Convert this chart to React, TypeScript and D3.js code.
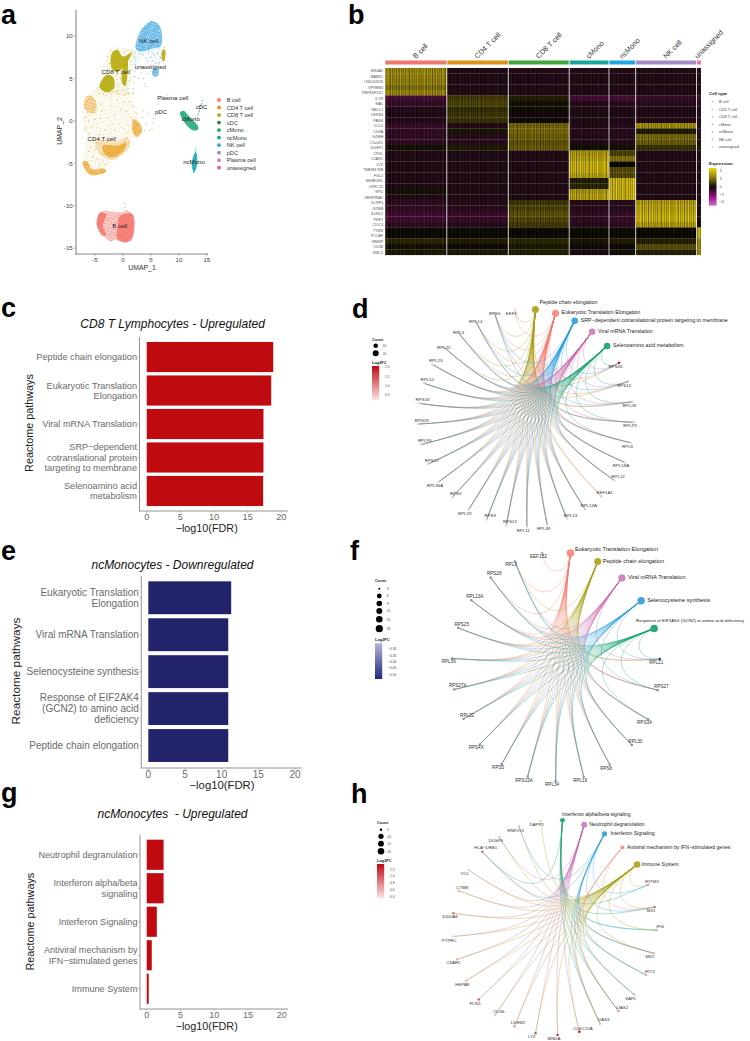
import React from "react";
import * as d3 from "d3";

const FONT = "'Liberation Sans', Arial, sans-serif";

/* ---------- panel a ---------- */
const umapTypes = ["B cell","CD4 T cell","CD8 T cell","cDC","cMono","ncMono","NK cell","pDC","Plasma cell","unassigned"];
const umapColors = ["#F4766C","#E79A10","#B3A700","#2C7F3C","#1BA673","#0BA5B0","#3DA5E0","#9988CC","#D37BB0","#E05C9A"];
const umapTicksX = [-5,0,5,10,15];
const umapTicksY = [-15,-10,-5,0,5,10];
type Region = { type: string; dense: number; outline: [number,number][] };
const umapRegions: Region[] = [
  {type:"CD4 T cell",dense:0,outline:[[-7.1,0.1],[-6.8,2.5],[-5,3.65],[-2,4.25],[1.5,3.4],[2.15,1.3],[3,-0.1],[3.3,-1.25],[1.85,-2.4],[0.1,-4],[-2.9,-5],[-2.9,-5.8],[-5.9,-6.4],[-7.2,-5],[-6.4,-2.6]]},
  {type:"CD4 T cell",dense:2,outline:[[-6.9,1.5],[-6.5,2.9],[-5.3,2.8],[-4.7,1.5],[-5.5,0.9]]},
  {type:"CD4 T cell",dense:1,outline:[[-5,-2.5],[-3,-2.2],[-1,-2.4],[0.8,-1.9],[1.2,-3],[0,-3.9],[-2,-4.6],[-4,-4]]},
  {type:"CD4 T cell",dense:3,outline:[[-3.6,-2.9],[-1,-2.9],[0.6,-2.6],[0,-3.6],[-2,-4.3],[-3.4,-3.8]]},
  {type:"CD4 T cell",dense:3,outline:[[1.9,0.2],[3,-0.3],[3.4,-1.2],[2.5,-1.9],[1.7,-1.2]]},
  {type:"CD4 T cell",dense:3,outline:[[-7.2,-4.8],[-6.4,-4.8],[-5.5,-5.7],[-3.5,-5.6],[-3,-6],[-5.6,-6.4],[-6.6,-5.9]]},
  {type:"CD8 T cell",dense:0,outline:[[-5,3.4],[-3.5,5.5],[-2.5,8.3],[2,8.2],[1.5,5],[0.8,3.2],[-3,3.2]]},
  {type:"CD8 T cell",dense:4,outline:[[-2,8],[-1,8.4],[0,7.6],[1.6,8.1],[1,7.2],[0.5,6.6],[-1,5.8],[-2,6.2]]},
  {type:"CD8 T cell",dense:4,outline:[[0.2,6.6],[0.8,7],[0.8,5.5],[0.4,4.1],[-0.2,4.5]]},
  {type:"CD8 T cell",dense:4,outline:[[-4.2,4],[-3,5.4],[-1.8,5.2],[-1.6,3.9],[-3,3.4]]},
  {type:"CD8 T cell",dense:4,outline:[[7.2,8.5],[7.6,8.2],[7.3,7],[6.9,7.4]]},
  {type:"NK cell",dense:0,outline:[[2.2,8.5],[6.8,8.8],[6.7,6.5],[6.3,5.3],[5.3,5.3],[5.6,7],[4,7.8],[2.5,6.5],[2,4.5],[1.9,3.6],[2.1,6]]},
  {type:"NK cell",dense:3,outline:[[2.3,8.5],[3,10.5],[4.2,11.4],[5,11.8],[6.5,11.3],[7,10],[6.7,8.8],[5,8.5],[3.5,8.2]]},
  {type:"NK cell",dense:3,outline:[[5.3,6],[6.3,6.2],[6.2,5.3],[5.4,5.3]]},
  {type:"B cell",dense:2,outline:[[-4.6,-11.5],[-4,-10.7],[-2,-10.7],[0,-10.8],[0.6,-10.6],[1.7,-11],[1.8,-12.5],[1.7,-14],[0.5,-14.3],[-1,-14],[-2.2,-14.2],[-3.5,-13.6],[-4.6,-12.5]]},
  {type:"B cell",dense:4,outline:[[-0.5,-11.2],[1.7,-11],[1.8,-13.5],[0.8,-14.3],[-1,-14],[-1,-12.5]]},
  {type:"B cell",dense:4,outline:[[-4.6,-11.5],[-4,-10.8],[-3,-11],[-3.6,-12.4],[-3,-13.5],[-3.6,-13.5],[-4.6,-12.5]]},
  {type:"cMono",dense:4,outline:[[10.2,1],[10.8,1.2],[12,0.4],[13.4,-0.6],[13.4,-1],[12.5,-1.1],[10.9,-0.1]]},
  {type:"ncMono",dense:4,outline:[[13,-3.6],[13.3,-5],[12.7,-6.1],[12.3,-5]]},
];
const cd4Points: [number,number][] = [[-6.8,0.4],[-6.2,0],[-5.6,-0.7],[-6,-1.5],[-6.6,-0.8],[-5.1,0.2],[-4.6,-0.8],[-4,0.3],[-3.4,1.3],[-2.7,0.4],[-2.1,1.8],[-1.6,0.7],[-1,2.5],[-0.4,1.4],[0.2,2.3],[0.7,1.1],[1.3,2.2],[1.5,0.4],[1.9,1.7],[0.9,-0.4],[0.2,-0.9],[-0.7,-0.4],[-1.5,-1.1],[-2.4,-0.6],[-3.3,-1],[-4.2,-1.6],[-5.2,-2.2],[-5.7,-3.1],[-6.2,-3.6],[-5,-3.4],[-5.4,-4.2],[-4.5,-4.5],[-3.6,-4.7],[-3.1,-5.1],[-4.2,-5.2],[-2.5,-4.9],[-1.2,-4.6],[-6.5,-2.5],[-5,1],[-4,2],[-3,3],[-2,3.3],[-1,3.6],[0.2,3.1],[1,3.2],[1.8,3.4],[3.4,0.4],[4.2,-0.3],[5.3,-0.2],[5.5,0.3],[4.6,0.9],[3.7,1.2],[3.9,-1.1],[4.8,-1.1],[5.2,-0.9],[2.4,0.9],[-2.2,2.7],[-3.8,1.1],[-1.8,-0.2],[0.9,-1.3],[-6.9,-1],[-6.3,1]];
const cd8Points: [number,number][] = [[-4.6,3.9],[-4.2,3.3],[-3.4,3.1],[-2.4,3.4],[-1.5,3.4],[-1,4.3],[-0.8,3.2],[-3.6,5.6],[-2.8,6],[-2.4,6.8],[-2.7,7.6],[-2.2,8.3],[-1,8.6],[0.2,8.2],[0.9,8.3],[1.6,8.3],[2,8.1],[1.4,7],[1.4,6],[1.1,4.7],[0.9,3.8],[0.6,3.3],[-0.5,5],[-1.2,5.4],[-2,4.2],[-3.1,4.1],[6.9,8],[7.4,8.7]];
const nkPoints: [number,number][] = [[2.1,7.5],[2.2,6.7],[2.1,5.9],[2,5.2],[1.9,4.5],[1.8,3.8],[1.9,3.2],[2.4,8.8],[3,8],[3.5,7.8],[4.2,7.4],[4.9,7.5],[5.5,7.8],[6.2,8],[6.7,7.5],[6.5,6.9],[5.9,6.8],[5.4,7],[4.6,8.2],[3.2,5.7],[3.7,5],[3.9,4.4],[4.1,4.1],[4.5,5.6],[2.7,5],[3.3,6.4]];
const bPoints: [number,number][] = [[0.3,-9.7],[0.4,-10.2],[0.1,-10.5],[0.6,-10.6],[-2.2,-12.1],[-2,-12.9],[-1.4,-12],[-1.8,-11.5],[-2.6,-12.7],[-2.7,-11.7],[-1.5,-13.3],[-2.4,-13.4],[-3.9,-13.4],[-4.6,-12.2]];
const cdcPoints: [number,number][] = [[13.3,0.4],[13.4,0.7],[13.5,0.9],[13.6,1.1],[13.7,1.3],[13.8,1.5],[13.9,1.7],[14,1.9],[14.1,2.1],[14.2,2.4]];
const ncMonoPoints: [number,number][] = [[13,-3.2],[13,-3.5],[13.1,-4],[12.4,-5.6],[12.6,-6.1],[12.9,-5.5]];
const pdcPoints: [number,number][] = [[6.2,2],[4.5,7],[5,6.5]];
const plasmaPoints: [number,number][] = [[8,3.1],[7.9,2.7]];
const unassignedPoints: [number,number][] = [[5.2,7.1],[5.5,6.6]];
const umapPointSets: [string,[number,number][]][] = [["CD4 T cell",cd4Points],["CD8 T cell",cd8Points],["NK cell",nkPoints],["B cell",bPoints],["cDC",cdcPoints],["ncMono",ncMonoPoints],["pDC",pdcPoints],["Plasma cell",plasmaPoints],["unassigned",unassignedPoints]];
const umapLabelNames = ["B cell","CD4 T cell","CD8 T cell","NK cell","unassigned","Plasma cell","pDC","cDC","cMono","ncMono"];
const umapLabelX = [-0.6,-3.8,-1.3,4.6,4.9,8.9,6.8,14.05,12.1,12.7];
const umapLabelY = [-12.4,-2.1,5.8,9.4,6.4,2.7,1.06,1.7,0.2,-4.9];
const dotTiles = [
  {size:9,r:0.42,dots:[[0.7,1.1],[3.2,0.4],[6.1,1.5],[8.2,0.6],[1.9,3.2],[4.6,2.9],[7.4,3.6],[0.5,5.4],[3.4,5.1],[5.9,5.9],[8.5,5.2],[2.2,7.6],[4.8,7.9],[7.1,7.7]]},
  {size:9,r:0.55,dots:[[0.6,0.6],[2.4,1.2],[4.1,0.3],[6.2,1],[8,0.4],[1.2,2.6],[3.3,2.9],[5.2,2.4],[7.1,2.8],[8.7,2.2],[0.3,4.4],[2.2,4.7],[4.3,4.2],[6,4.8],[7.9,4.4],[1.3,6.3],[3.2,6.6],[5.1,6.1],[7,6.7],[8.6,6.2],[0.4,8.1],[2.4,8.4],[4.2,7.9],[6.1,8.4],[7.9,8.2]]},
  {size:9,r:0.62,dots:[[0.5,0.4],[1.9,1],[3.2,0.3],[4.8,0.9],[6.2,0.3],[7.7,1],[1,2.1],[2.7,2.4],[4,1.9],[5.6,2.3],[7,2.1],[8.5,2.5],[0.2,3.6],[1.8,3.8],[3.3,3.5],[4.7,3.8],[6.2,3.5],[7.7,3.9],[1,5.1],[2.6,5.3],[4,5],[5.5,5.4],[7,5.1],[8.5,5.3],[0.2,6.6],[1.8,6.8],[3.3,6.5],[4.7,6.9],[6.2,6.6],[7.7,6.8],[1,8.1],[2.6,8.3],[4,8],[5.5,8.4],[7,8.1],[8.5,8.3]]},
  {size:9,r:0.78,dots:[[0.5,0.4],[1.9,1],[3.2,0.3],[4.8,0.9],[6.2,0.3],[7.7,1],[1,2.1],[2.7,2.4],[4,1.9],[5.6,2.3],[7,2.1],[8.5,2.5],[0.2,3.6],[1.8,3.8],[3.3,3.5],[4.7,3.8],[6.2,3.5],[7.7,3.9],[1,5.1],[2.6,5.3],[4,5],[5.5,5.4],[7,5.1],[8.5,5.3],[0.2,6.6],[1.8,6.8],[3.3,6.5],[4.7,6.9],[6.2,6.6],[7.7,6.8],[1,8.1],[2.6,8.3],[4,8],[5.5,8.4],[7,8.1],[8.5,8.3]]},
  {size:2,r:1.05,dots:[[0.5,0.5],[1.5,1.5]]},
];

function PanelA() {
  const x = d3.scaleLinear().domain([-8.4,15.2]).range([76,208]);
  const y = d3.scaleLinear().domain([-15.7,13.09]).range([254,10]);
  const outline = d3.line<[number,number]>().x(d=>x(d[0])).y(d=>y(d[1])).curve(d3.curveCatmullRomClosed.alpha(0.5));
  const color = d3.scaleOrdinal<string,string>().domain(umapTypes).range(umapColors);
  const legendY = d3.scalePoint<string>().domain(umapTypes).range([100,167.7]);
  return <g fontFamily={FONT}>
    <defs>
      <filter id="soft" x="-5%" y="-5%" width="110%" height="110%"><feGaussianBlur stdDeviation="0.15"/></filter>
      {umapTypes.flatMap((t,i)=>dotTiles.map((tile,j)=>
        <pattern key={t+j} id={`dots${i}-${j}`} width={tile.size} height={tile.size} patternUnits="userSpaceOnUse" patternTransform="rotate(17)">
          {tile.dots.map((d,k)=><circle key={k} cx={d[0]} cy={d[1]} r={tile.r} fill={color(t)}/>)}
        </pattern>))}
    </defs>
    <g filter="url(#soft)">
      {umapRegions.map((r,i)=><path key={i} d={outline(r.outline)!} fill={`url(#dots${umapTypes.indexOf(r.type)}-${r.dense})`}/>)}
      {umapPointSets.map(([t,pts])=>pts.map((p,i)=><circle key={t+i} cx={x(p[0])} cy={y(p[1])} r={0.5} fill={color(t)}/>))}
    </g>
    <line x1={76} x2={76} y1={10} y2={254.6} stroke="#888" strokeWidth={1.1}/>
    <line x1={75.5} x2={208} y1={254} y2={254} stroke="#888" strokeWidth={1.1}/>
    {umapTicksX.map(t=><g key={t}>
      <line x1={x(t)} x2={x(t)} y1={254} y2={256.3} stroke="#777" strokeWidth={0.5}/>
      <text x={x(t)} y={262.3} fontSize={6.2} textAnchor="middle" fill="#444">{t}</text></g>)}
    {umapTicksY.map(t=><g key={t}>
      <line x1={73.7} x2={76} y1={y(t)} y2={y(t)} stroke="#777" strokeWidth={0.5}/>
      <text x={72.8} y={y(t)+2.2} fontSize={6.2} textAnchor="end" fill="#444">{t}</text></g>)}
    <text x={142} y={269.5} fontSize={6.9} textAnchor="middle" fill="#333">UMAP_1</text>
    <text transform="translate(61.5,131) rotate(-90)" fontSize={6.9} textAnchor="middle" fill="#333">UMAP_2</text>
    {umapLabelNames.map((n,i)=><text key={n} x={x(umapLabelX[i])} y={y(umapLabelY[i])+2} fontSize={6.1} textAnchor="middle" fill="#222">{n}</text>)}
    {umapTypes.map(t=><g key={t}>
      <circle cx={219} cy={legendY(t)!} r={1.9} fill={color(t)}/>
      <text x={226.7} y={legendY(t)!+2} fontSize={5.7} fill="#333">{t}</text></g>)}
  </g>;
}

/* ---------- panel b ---------- */
const heatClusters = ["B cell","CD4 T cell","CD8 T cell","cMono","ncMono","NK cell","unassigned"];
const heatClusterCells = [61,61,60.5,39.5,26.5,60.5,4.7];
const heatBarColors = ["#F0756B","#DB9417","#3EA53C","#15A79C","#1FA4E5","#A58AC9","#EE6FB0"];
const heatLegendNames = ["B cell","CD4 T cell","CD8 T cell","cMono","ncMono","NK cell","unassigned"];
const heatGenes = ["MS4A1","BANK1","LINC00926","VPREB3","TNFRSF13C","IL7R","MAL","NELL2","LRRN3","PASK","CCL5","CD8A","GZMH","C1orf21","DUSP2","CPVL","C5AR1","LYZ","TMEM176B","FGL2","SH3BGRL","LRRC25","SPI1","SERPINA1","KLRF1","GZMB","KLRD1","PRF1","CLIC3","TYMS","PCLAF","NMNP","CD38","SMC4"];
const heatValues = [
[1.5,-.3,-.3,-.3,-.3,-.3,-.3],[1.5,-.3,-.3,-.3,-.3,-.3,-.3],[1.45,-.3,-.3,-.3,-.3,-.3,-.3],[1.25,-.3,-.3,-.3,-.3,-.3,-.3],[1.5,-.3,-.3,-.3,-.3,-.3,-.3],
[-.8,.6,.25,-.8,-.8,-.6,-.7],[-.55,.7,.1,-.35,-.4,-.4,-.4],[-.35,.45,.05,-.3,-.3,-.3,-.3],[-.3,.55,-.1,-.3,-.3,-.3,-.3],[-.35,.5,-.05,-.3,-.3,-.35,-.3],
[-.6,-.35,1.1,-.35,-.4,1.6,-.4],[-.55,.15,1.15,-.4,-.4,.25,-.4],[-.55,-.4,1.05,-.35,-.4,1.15,-.4],[-.5,-.4,.9,-.3,-.35,1,-.3],[.1,.2,1,.1,.1,.5,.2],
[-.3,-.3,-.3,1.7,.7,-.3,-.3],[-.3,-.3,-.3,1.8,1.3,-.3,-.3],[-.3,-.3,-.3,2.2,0,-.3,-.3],[-.3,-.3,-.3,2,.8,-.3,-.3],[-.3,-.3,-.3,1.8,.8,-.3,-.3],
[-.3,-.3,-.3,.25,2.3,-.3,-.3],[-.3,-.3,-.3,.35,2.3,-.3,-.3],[.1,-.3,-.3,1.7,2,-.3,-.3],[-.3,-.3,-.3,1.8,2.3,-.3,-.3],
[-.5,-.35,.55,-.35,-.4,1.75,-.3],[-.5,-.4,.7,-.4,-.4,1.85,-.3],[-.7,-.6,.85,-.5,-.6,1.95,-.3],[-.7,-.6,.75,-.5,-.6,2.05,-.3],[-.5,-.4,.6,-.4,-.5,1.75,0],
[.03,.03,.03,.03,.03,.03,2],[.02,.02,.02,.02,.02,.02,2],[.35,.25,.35,.15,.25,.3,1.5],[.1,-.1,.2,-.1,-.1,.85,1.5],[.2,.2,.25,-.25,.1,.3,1.5],
];
const heatTexture = [.35,.05,.5,.2,0,.45,.12,.6,.02,.3,.55,.1,.4,0,.25,.65,.08,.38,.15,.5,0,.28,.6,.1,.42,.05,.33,.55,.18,0,.48,.22,.6,.07,.36,.12,.52,.02,.3,.44,.1,.58,.2,0,.4,.15,.5,.26];
const heatSpark = [0,.08,0,.16,0,0,.05,0,.12,0,0,.1,0,.03,0,.18,0,0,.06,0,.13,0,.04,0,.08,0,.15,0,0,.06,0,.1,0,.04,0,.14,0];
const exprTicks = [2,1,0,-1,-2];

function PanelB() {
  const exprColor = d3.scaleLinear<string>().domain([-2,0,2]).range(["#C412A8","#000000","#F5D80A"]).clamp(true);
  const rows = d3.scaleBand<string>().domain(heatGenes).range([68,255]);
  const ends = d3.cumsum(heatClusterCells);
  const cx = d3.scaleLinear().domain([0,ends[ends.length-1]]).range([385.3,701.3]);
  const legendY = d3.scalePoint<string>().domain(heatLegendNames).range([101.7,147]);
  const barY = d3.scaleLinear().domain([2,-2]).range([171,202]);
  return <g fontFamily={FONT}>
    <defs>
      <pattern id="heatTex" width={heatTexture.length*0.75} height={10} patternUnits="userSpaceOnUse" x={385}>
        {heatTexture.map((o,i)=><rect key={i} x={i*0.75} y={0} width={0.75} height={10} fill="#000" opacity={o}/>)}
      </pattern>
      <pattern id="heatSpk" width={heatSpark.length*0.75} height={10} patternUnits="userSpaceOnUse" x={385}>
        {heatSpark.map((o,i)=><rect key={i} x={i*0.75} y={0} width={0.75} height={10} fill="#E8D030" opacity={o}/>)}
      </pattern>
      <linearGradient id="exprGrad" x1="0" x2="0" y1="0" y2="1">
        <stop offset="0" stopColor="#F2D40A"/><stop offset="0.25" stopColor="#8E7C10"/><stop offset="0.5" stopColor="#0c0c0c"/><stop offset="0.78" stopColor="#A0108C"/><stop offset="1" stopColor="#D66FC6"/>
      </linearGradient>
    </defs>
    {heatClusters.map((c,j)=>{
      const x0 = cx(j?ends[j-1]:0)+(j?0.5:0), x1 = cx(ends[j])-0.4;
      return <g key={c}>
        <rect x={x0} y={60.5} width={x1-x0} height={4} fill={heatBarColors[j]}/>
        <text transform={`translate(${j===6?x0+0.5:(x0+x1)/2},59) rotate(-45)`} fontSize={7.2} fill="#333">{c}</text>
        {heatGenes.map((g,i)=><rect key={g} x={x0} y={rows(g)!} width={x1-x0} height={rows.bandwidth()+0.1} fill={exprColor(heatValues[i][j])}/>)}
        <rect x={x0} y={68} width={x1-x0} height={187} fill="url(#heatTex)"/>
        <rect x={x0} y={68} width={x1-x0} height={187} fill="url(#heatSpk)"/>
      </g>;
    })}
    {heatGenes.map(g=><text key={g} x={383.2} y={rows(g)!+rows.bandwidth()/2+1.3} fontSize={3.8} textAnchor="end" fill="#555">{g}</text>)}
    <text x={709} y={95} fontSize={4.4} fontWeight="bold" fill="#222">Cell type</text>
    {heatLegendNames.map((n,i)=><g key={n}>
      <circle cx={712.3} cy={legendY(n)!} r={0.6} fill={heatBarColors[i]}/>
      <text x={719} y={legendY(n)!+1.4} fontSize={3.9} fill="#444">{n}</text></g>)}
    <text x={709} y={165} fontSize={4.4} fontWeight="bold" fill="#222">Expression</text>
    <rect x={709} y={168} width={7.5} height={37.7} fill="url(#exprGrad)"/>
    {exprTicks.map(t=><text key={t} x={719.5} y={barY(t)+1.4} fontSize={3.9} fill="#444">{t===-1||t===-2?`\u2212${-t}`:t}</text>)}
  </g>;
}

/* ---------- bar panels ---------- */
const xTicksBar = [0,5,10,15,20];
const cdUpPaths = ["Peptide chain elongation","Eukaryotic Translation|Elongation","Viral mRNA Translation","SRP\u2212dependent|cotranslational protein|targeting to membrane","Selenoamino acid|metabolism"];
const cdUpValues = [18.8,18.5,17.35,17.35,17.3];
const ncDownPaths = ["Eukaryotic Translation|Elongation","Viral mRNA Translation","Selenocysteine synthesis","Response of EIF2AK4|(GCN2) to amino acid|deficiency","Peptide chain elongation"];
const ncDownValues = [11.3,10.9,10.9,10.9,10.9];
const ncUpPaths = ["Neutrophil degranulation","Interferon alpha/beta|signaling","Interferon Signaling","Antiviral mechanism by|IFN\u2212stimulated genes","Immune System"];
const ncUpValues = [2.5,2.5,1.5,0.75,0.3];

type BarProps = {title:string;titleX:number;titleY:number;titleSize:number;paths:string[];values:number[];color:string;
  axisX:number;top:number;bottom:number;bandTop:number;bandBottom:number;x0:number;x20:number;xEnd:number;pad:number;labelSize:number;lineH:number;
  tickY:number;xTitleX:number;xTitleY:number;xTitleSize:number;yTitleX:number;yTitleY:number;yTitleSize:number};
function Bars(p:BarProps){
  const x = d3.scaleLinear().domain([0,20]).range([p.x0,p.x20]);
  const y = d3.scaleBand<string>().domain(p.paths).range([p.bandTop,p.bandBottom]).paddingInner(p.pad).paddingOuter(p.pad/2);
  return <g fontFamily={FONT}>
    <text x={p.titleX} y={p.titleY} fontSize={p.titleSize} fontStyle="italic" textAnchor="middle" fill="#111">{p.title}</text>
    {p.paths.map((n,i)=>{
      const lines=n.split("|"), mid=y(n)!+y.bandwidth()/2;
      return <g key={n}>
        <rect x={x(0)} y={y(n)!} width={x(p.values[i])-x(0)} height={y.bandwidth()} fill={p.color}/>
        <line x1={p.axisX-2} x2={p.axisX} y1={mid} y2={mid} stroke="#888" strokeWidth={0.5}/>
        {lines.map((l,k)=><text key={k} x={p.axisX-2.5} y={mid+(k-(lines.length-1)/2)*p.lineH+p.labelSize*0.35} fontSize={p.labelSize} textAnchor="end" fill="#6a6a6a">{l}</text>)}
      </g>;})}
    <line x1={p.axisX} x2={p.axisX} y1={p.top} y2={p.bottom+0.5} stroke="#888" strokeWidth={0.9}/>
    <line x1={p.axisX} x2={p.xEnd} y1={p.bottom} y2={p.bottom} stroke="#888" strokeWidth={0.9}/>
    {xTicksBar.map(t=><g key={t}>
      <line x1={x(t)} x2={x(t)} y1={p.bottom} y2={p.bottom+2} stroke="#888" strokeWidth={0.5}/>
      <text x={x(t)} y={p.tickY} fontSize={p.labelSize} textAnchor="middle" fill="#6a6a6a">{t}</text></g>)}
    <text x={p.xTitleX} y={p.xTitleY} fontSize={p.xTitleSize} textAnchor="middle" fill="#222">{"\u2212log10(FDR)"}</text>
    <text transform={`translate(${p.yTitleX},${p.yTitleY}) rotate(-90)`} fontSize={p.yTitleSize} textAnchor="middle" fill="#222">Reactome pathways</text>
  </g>;
}

/* ---------- cnet panels ---------- */
const dPathways = ["Peptide chain elongation","Eukaryotic Translation Elongation","SRP\u2212dependent cotranslational protein targeting to membrane","Viral mRNA Translation","Selenoamino acid metabolism"];
const dPathColors = ["#B5A82B","#F98E83","#3FA6E0","#CF85BD","#2AA876"];
const dEdgeColors = ["#A8A012","#F4786C","#2A9BDC","#C766A8","#14A06A"];
const dGenes = ["RPS26","RPS10","RPL28","RPLP2","RPL8","RPL18A","RPL12","EEF1A1","RPL13A","RPL13","RPL39","RPL11","RPS12","RPS9","RPL29","RPS3","RPL36A","RPS17","RPLP0","RPS28","RPS18","RPL10","RPL23","RPL22","RPL3","RPL14","RPS5","EEF2"];
const dGeneFC = [2.2,0.9,0.6,0.6,0.55,0.6,0.55,0.7,0.6,0.55,0.55,0.55,0.6,0.6,0.55,0.55,0.6,0.7,0.6,0.6,0.55,0.55,0.55,0.55,0.55,0.55,0.6,0.55];
const dGeneShift = [-1,-1,-1,-1,-1,-1,1,1,1,1,-1,-1,1,1,-1,1,-1,1,1,1,1,1,1,0,0,0,0,-1];
const dMembers = [dGenes, dGenes, dGenes.filter(g=>!g.startsWith("EEF")), dGenes.filter(g=>!g.startsWith("EEF")), dGenes.filter(g=>!g.startsWith("EEF"))];

const fPathways = ["Eukaryotic Translation Elongation","Peptide chain elongation","Viral mRNA Translation","Selenocysteine synthesis","Response of EIF2AK4 (GCN2) to amino acid deficiency"];
const fPathColors = ["#F98E83","#B5A82B","#CF85BD","#3FA6E0","#2AA876"];
const fEdgeColors = ["#F4786C","#A8A012","#C766A8","#2A9BDC","#14A06A"];
const fGenes = ["RPL21","RPS27","RPS3A","RPL30","RPS6","RPL19","RPL34","RPS15A","RPS5","RPS4X","RPL32","RPS27A","RPL36","RPS25","RPL13A","RPS28","RPL3","EEF1B2"];
const fGeneFC = [-0.5,-0.37,-0.36,-0.38,-0.36,-0.36,-0.37,-0.36,-0.36,-0.36,-0.36,-0.36,-0.38,-0.36,-0.36,-0.36,-0.36,-0.33];
const fGeneShift = [-1,1,-1,1,-1,-1,-1,-1,-1,-1,1,1,-1,1,1,1,-1,-1];
const fMembers = [fGenes, fGenes.filter(g=>g!=="EEF1B2"), fGenes.filter(g=>g!=="EEF1B2"), fGenes.filter(g=>g!=="EEF1B2"), fGenes.filter(g=>g!=="EEF1B2")];

const hPathways = ["Interferon alpha/beta signaling","Neutrophil degranulation","Interferon Signaling","Antiviral mechanism by IFN\u2212stimulated genes","Immune System"];
const hPathColors = ["#2AA876","#CF85BD","#3FA6E0","#F98E83","#B5A82B"];
const hEdgeColors = ["#14A06A","#C766A8","#2A9BDC","#F4786C","#A8A012"];
const hGenes = ["IFITM3","MX1","IFI6","MX2","IFIT3","XAF1","OAS2","OAS3","CLEC12A","MNDA","LYZ","LILRB2","CD36","FCN1","HSPA8","C5AR1","PTPRC","S100A8","CYBB","VCL","HLA\u2212DRB1","DUSP6","RNF213","DAPP1"];
const hGeneFC = [0.7,0.9,0.7,0.6,0.6,0.6,0.7,0.5,1.3,1.15,1.05,0.7,0.5,1,0.55,0.6,0.45,0.85,0.55,0.45,0.9,0.55,0.6,0.5];
const hGeneShift = [1,-1,1,-1,1,-1,1,1,1,-1,-1,1,1,-1,-1,-1,-1,-1,1,-1,1,-1,-1,-1];
const hAlpha = ["IFITM3","MX1","IFI6","MX2","IFIT3","XAF1","OAS2","OAS3","HLA\u2212DRB1"];
const hNeut = ["CLEC12A","MNDA","LYZ","LILRB2","CD36","FCN1","HSPA8","C5AR1","PTPRC","S100A8","CYBB","VCL","DUSP6"];
const hSignal = ["IFITM3","MX1","IFI6","MX2","IFIT3","XAF1","OAS2","OAS3","HLA\u2212DRB1","RNF213"];
const hAntiviral = ["MX1","MX2","OAS2","OAS3"];
const hImmune = ["IFITM3","MX1","IFI6","MX2","IFIT3","OAS2","OAS3","CLEC12A","MNDA","LYZ","LILRB2","CD36","FCN1","HSPA8","C5AR1","PTPRC","S100A8","CYBB","VCL","HLA\u2212DRB1","DUSP6","RNF213","DAPP1","XAF1"];
const hMembers = [hAlpha,hNeut,hSignal,hAntiviral,hImmune];

type CnetProps = {cx:number;cy:number;rx:number;ry:number;theta0:number;pathways:string[];pathColors:string[];edgeColors:string[];members:string[][];
  genes:string[];fc:number[];shift:number[];fcDomain:[number,number];fcRange:[string,string];nodeR:number[];labelDx:number[];labelDy:number[];labelSizes:number[];geneSize:number;};
function Cnet(p:CnetProps){
  const names=[...p.pathways,...p.genes];
  const step=360/names.length;
  const angle=d3.scalePoint<string>().domain(names).range([p.theta0,p.theta0+step*(names.length-1)]);
  const pos=(n:string)=>{const a=angle(n)!*Math.PI/180;return [p.cx+p.rx*Math.sin(a),p.cy-p.ry*Math.cos(a)];};
  const fcColor=d3.scaleLinear<string>().domain(p.fcDomain).range(p.fcRange).clamp(true);
  const R=(p.rx+p.ry)/2;
  const edge=(a:string,b:string)=>{
    const [x0,y0]=pos(a),[x1,y1]=pos(b);
    const f=0.86*Math.min(1,Math.hypot(x1-x0,y1-y0)/(1.05*R));
    const path=d3.path();
    path.moveTo(x0,y0);
    path.bezierCurveTo(x0+(p.cx-x0)*f,y0+(p.cy-y0)*f,x1+(p.cx-x1)*f,y1+(p.cy-y1)*f,x1,y1);
    return path.toString();
  };
  return <g fontFamily={FONT}>
    {p.members.flatMap((ms,i)=>ms.map(g=><path key={i+g} d={edge(p.pathways[i],g)} fill="none" stroke={p.edgeColors[i]} strokeWidth={0.45} strokeOpacity={0.72}/>))}
    {p.genes.map((g,i)=>{const [x,y]=pos(g);const s=p.shift[i];return <g key={g}>
      <circle cx={x} cy={y} r={1.2} fill={fcColor(p.fc[i])}/>
      <text x={x+s*3.6} y={y-s*3.6+1.4} fontSize={p.geneSize} textAnchor="middle" fill="#333">{g}</text></g>;})}
    {p.pathways.map((n,i)=>{const [x,y]=pos(n);return <g key={n}>
      <circle cx={x} cy={y} r={p.nodeR[i]} fill={p.pathColors[i]}/>
      <text x={x+p.labelDx[i]} y={y+p.labelDy[i]+1.8} fontSize={p.labelSizes[i]} fill="#222">{n}</text></g>;})}
  </g>;
}

const dCountLevels=[10,20];
const dCountR=[2.3,3];
const dFcTicks=[2,1.5,1,0.5];
const fCountLevels=[3,6,9,12,15,18];
const fCountR=[1,2.4,2.8,3,3.3,3.6];
const fFcTicks=["\u22120.30","\u22120.35","\u22120.40","\u22120.45","\u22120.50"];
const hCountLevels=[5,10,15,20];
const hCountR=[1.2,2.6,2.9,3.3];
const hFcTicks=["1.2","1.0","0.8","0.6","0.4"];

function CnetLegend({x,countY,levels,radii,levelY,dotX,labelX,titleY,barX,barTop,barBottom,ticks,tickY,topColor,bottomColor,id}:{x:number;countY:number;levels:number[];radii:number[];levelY:number[];dotX:number;labelX:number;titleY:number;barX:number;barTop:number;barBottom:number;ticks:(string|number)[];tickY:number[];topColor:string;bottomColor:string;id:string}){
  return <g fontFamily={FONT}>
    <defs><linearGradient id={id} x1="0" x2="0" y1="0" y2="1"><stop offset="0" stopColor={topColor}/><stop offset="1" stopColor={bottomColor}/></linearGradient></defs>
    <text x={x} y={countY} fontSize={3.9} fontWeight="bold" fill="#222">Count</text>
    {levels.map((l,i)=><g key={l}><circle cx={dotX} cy={levelY[i]} r={radii[i]} fill="#000"/><text x={labelX} y={levelY[i]+1.2} fontSize={3.3} fill="#444">{l}</text></g>)}
    <text x={x} y={titleY} fontSize={3.9} fontWeight="bold" fill="#222">Log2FC</text>
    <rect x={barX} y={barTop} width={7.2} height={barBottom-barTop} fill={`url(#${id})`}/>
    {ticks.map((t,i)=><text key={i} x={barX+13} y={tickY[i]+1.2} fontSize={3.3} fill="#444">{typeof t==="number"?t.toFixed(1):t}</text>)}
  </g>;
}

const panelLetters=["a","b","c","d","e","f","g","h"];
const letterX=[1,348,1,352,1,350,1,351];
const letterY=[24,24,317,318,560,560,802,803];

export default function App(){
  return <svg width={750} height={1041} viewBox="0 0 750 1041" style={{position:"absolute",left:0,top:0,background:"#fff"}}>
    <PanelA/>
    <PanelB/>
    <Bars title="CD8 T Lymphocytes - Upregulated" titleX={172.6} titleY={328} titleSize={12} paths={cdUpPaths} values={cdUpValues} color="#BF0A0F"
      axisX={139.5} top={337} bottom={511} bandTop={340.3} bandBottom={507.7} x0={146.7} x20={281.3} xEnd={288} pad={0.1} labelSize={9.2} lineH={10.4}
      tickY={520.3} xTitleX={206.7} xTitleY={531.5} xTitleSize={10.8} yTitleX={33} yTitleY={423} yTitleSize={10.8}/>
    <Bars title="ncMonocytes - Downregulated" titleX={172.5} titleY={569} titleSize={12} paths={ncDownPaths} values={ncDownValues} color="#23236B"
      axisX={141.3} top={576} bottom={768} bandTop={579.3} bandBottom={764} x0={148.3} x20={295} xEnd={301.7} pad={0.11} labelSize={10} lineH={11}
      tickY={777.5} xTitleX={222} xTitleY={789} xTitleSize={11.3} yTitleX={20} yTitleY={671} yTitleSize={11.8}/>
    <Bars title={"ncMonocytes\u00A0 - Upregulated"} titleX={172.5} titleY={818} titleSize={12} paths={ncUpPaths} values={ncUpValues} color="#BF0A0F"
      axisX={140} top={835} bottom={1009} bandTop={838} bandBottom={1005.5} x0={146.7} x20={281.7} xEnd={288} pad={0.1} labelSize={9.1} lineH={10.2}
      tickY={1018} xTitleX={206.7} xTitleY={1029.5} xTitleSize={10.8} yTitleX={34} yTitleY={921.7} yTitleSize={10.8}/>
    <Cnet cx={526} cy={418} rx={108} ry={109} theta0={5} pathways={dPathways} pathColors={dPathColors} edgeColors={dEdgeColors} members={dMembers}
      genes={dGenes} fc={dGeneFC} shift={dGeneShift} fcDomain={[0.5,2.2]} fcRange={["#FCD9D2","#BE0A14"]} nodeR={[3.5,3.5,3.3,3.3,3.3]}
      labelDx={[4,6,6,6,6]} labelDy={[-7,-0.5,-0.5,-0.5,-0.5]} labelSizes={[5.3,5.3,5.3,5.3,5.3]} geneSize={4.4}/>
    <Cnet cx={556} cy={666.5} rx={104} ry={114.5} theta0={8} pathways={fPathways} pathColors={fPathColors} edgeColors={fEdgeColors} members={fMembers}
      genes={fGenes} fc={fGeneFC} shift={fGeneShift} fcDomain={[-0.3,-0.5]} fcRange={["#B8B3DA","#1F2A80"]} nodeR={[3.8,3.5,3.6,3.7,3.8]}
      labelDx={[4.5,5,6,6,-18]} labelDy={[-3.5,-0.5,-0.5,-0.5,-8.5]} labelSizes={[5.6,5.6,5.6,5.6,4.4]} geneSize={4.6}/>
    <Cnet cx={554.5} cy={927.5} rx={102} ry={107.5} theta0={4.5} pathways={hPathways} pathColors={hPathColors} edgeColors={hEdgeColors} members={hMembers}
      genes={hGenes} fc={hGeneFC} shift={hGeneShift} fcDomain={[0.4,1.3]} fcRange={["#FCD9D2","#BE0A14"]} nodeR={[2.4,2.9,2.6,1.9,3.3]}
      labelDx={[-0.5,5,6,4.5,4.5]} labelDy={[-6.5,-0.5,-0.5,-0.5,-0.5]} labelSizes={[5.1,5.1,5.1,5.1,5.1]} geneSize={4.4}/>
    <CnetLegend id="gd" x={372} countY={341} levels={dCountLevels} radii={dCountR} levelY={[345.7,353.3]} dotX={375.7} labelX={382.7} titleY={363.5} barX={372} barTop={366} barBottom={400}
      ticks={dFcTicks} tickY={[367,376.5,386,395]} topColor="#BE0A14" bottomColor="#FDE3DE"/>
    <CnetLegend id="gf" x={375} countY={582} levels={fCountLevels} radii={fCountR} levelY={[588.7,596,603.5,611,619.3,628.7]} dotX={379.3} labelX={386.7} titleY={640.5} barX={375} barTop={643.3} barBottom={679}
      ticks={fFcTicks} tickY={[649,655.6,661.7,668,674.7]} topColor="#B8B3DA" bottomColor="#1F2A80"/>
    <CnetLegend id="gh" x={377} countY={824} levels={hCountLevels} radii={hCountR} levelY={[829.7,836.3,843.7,851.3]} dotX={381} labelX={387.3} titleY={862} barX={377} barTop={864} barBottom={898}
      ticks={hFcTicks} tickY={[869.3,876,882.7,889.7,896.7]} topColor="#BE0A14" bottomColor="#FDE3DE"/>
    {panelLetters.map((l,i)=><text key={l} x={letterX[i]} y={letterY[i]} fontFamily={FONT} fontWeight="bold" fontSize={27} fill="#000">{l}</text>)}
  </svg>;
}
